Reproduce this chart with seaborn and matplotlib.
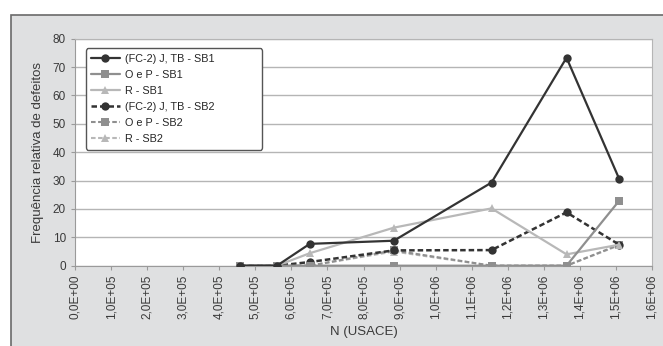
import numpy as np
import pandas as pd
import matplotlib
matplotlib.use("Agg")
import matplotlib.pyplot as plt
from matplotlib.patches import Rectangle
import seaborn as sns

# Data
n_usace = [4.58e5, 5.60e5, 6.51e5, 8.84e5, 1.155e6, 1.363e6, 1.509e6]
fc2_sb1 = [0, 0, 7.7, 8.8, 29.3, 73.3, 30.6]
oep_sb1 = [0, 0, 0, 0, 0, 0, 22.9]
r_sb1 = [0, 0, 4.4, 13.4, 20.2, 4.0, 7.4]
fc2_sb2 = [0, 0, 1.3, 5.4, 5.5, 18.8, 7.4]
oep_sb2 = [0, 0, 0, 5.4, 0, 0, 7.4]
r_sb2 = [0, 0, 0, 5.0, 0, 0, 7.2]

labels = ["(FC-2) J, TB - SB1", "O e P - SB1", "R - SB1",
          "(FC-2) J, TB - SB2", "O e P - SB2", "R - SB2"]
series = [fc2_sb1, oep_sb1, r_sb1, fc2_sb2, oep_sb2, r_sb2]
xticks = np.arange(0, 1.7e6, 1e5)
xticklabels = ["0,0E+00", "1,0E+05", "2,0E+05", "3,0E+05", "4,0E+05", "5,0E+05",
               "6,0E+05", "7,0E+05", "8,0E+05", "9,0E+05", "1,0E+06", "1,1E+06",
               "1,2E+06", "1,3E+06", "1,4E+06", "1,5E+06", "1,6E+06"]

colors = ["#333333", "#8f8f8f", "#b8b8b8", "#333333", "#8f8f8f", "#b8b8b8"]
markers = ["o", "s", "^", "o", "s", "^"]
dash = (0, (2.2, 1.2))
styles = ["-", "-", "-", dash, dash, dash]
widths = [1.6, 1.6, 1.6, 1.8, 1.5, 1.5]

sns.set_style("white")
plt.rcParams["font.family"] = ["Liberation Sans", "DejaVu Sans"]

fig = plt.figure(figsize=(6.63, 3.46), dpi=100)
fig.patch.set_facecolor("white")
bg = Rectangle((11 / 663, -0.01), 1.0, 1 - 15 / 346 + 0.01,
               transform=fig.transFigure, facecolor="#dfe0e1",
               edgecolor="#6a6a6a", linewidth=1.2, zorder=-10)
fig.patches.append(bg)
ax = fig.add_axes([75 / 663, 1 - 265.7 / 346, 577 / 663, 227 / 346])
ax.set_zorder(1)
ax.set_facecolor("white")

for i in [0, 1, 2, 3, 4, 5]:
    df = pd.DataFrame({"N": n_usace, "f": series[i]})
    sns.lineplot(data=df, x="N", y="f", ax=ax, color=colors[i], marker=markers[i],
                 linestyle=styles[i], linewidth=widths[i], markersize=6,
                 markeredgewidth=0, label=labels[i], zorder=3 + (6 - i) * 0.1)

ax.set_xlim(0, 1.6e6)
ax.set_ylim(0, 80)
ax.set_yticks(np.arange(0, 81, 10))
ax.set_xticks(xticks)
ax.set_xticklabels(xticklabels, rotation=90, fontsize=8.5, color="#3a3a3a")
ax.tick_params(axis="y", labelsize=8.5, labelcolor="#3a3a3a")
ax.tick_params(axis="both", direction="out", length=3, width=0.8, color="#9a9a9a",
               bottom=True, left=True)
ax.grid(axis="y", color="#b5b5b5", linewidth=1)
for s in ax.spines.values():
    s.set_color("#b5b5b5")
ax.spines["left"].set_color("#9a9a9a")
ax.spines["bottom"].set_color("#9a9a9a")
ax.set_xlabel("N (USACE)", fontsize=9.5, color="#3a3a3a", labelpad=5)
ax.set_ylabel("Frequência relativa de defeitos", fontsize=9.5, color="#3a3a3a", labelpad=6)

leg = ax.legend(loc="upper left", bbox_to_anchor=(0.019, 0.6, 0.305, 0.357),
                mode="expand", fontsize=7.8, frameon=True, fancybox=True,
                edgecolor="#555555", handlelength=2.6, labelspacing=0.56,
                borderpad=0.5, handletextpad=0.5, borderaxespad=0)
leg.get_frame().set_linewidth(1.0)
leg.get_frame().set_alpha(1)

fig.savefig("out.png", dpi=100)
